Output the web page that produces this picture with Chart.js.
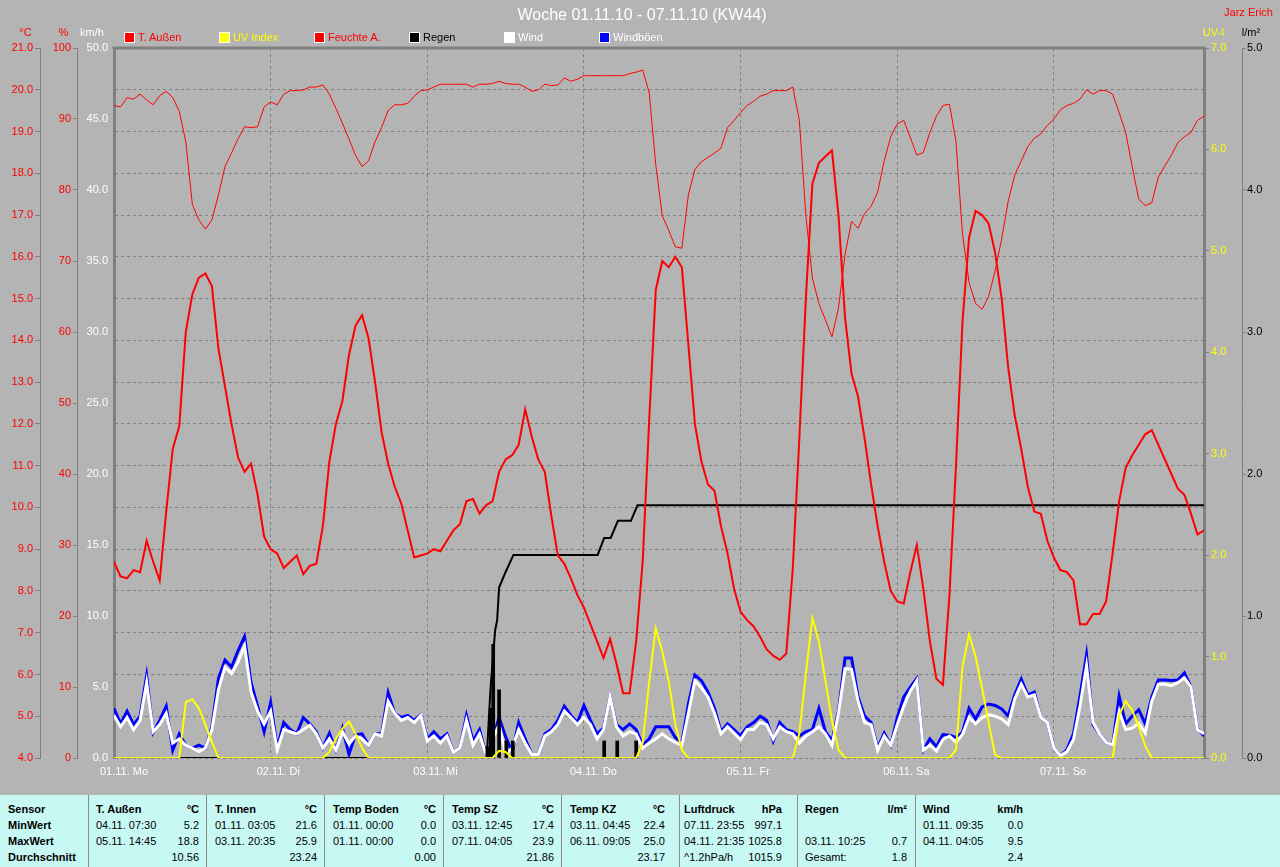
<!DOCTYPE html>
<html>
<head>
<meta charset="utf-8">
<script src="https://cdn.jsdelivr.net/npm/chart.js@4.4.0/dist/chart.umd.min.js"></script>
<style>
body { margin: 0; background: #b4b4b4; font-family: "Liberation Sans", Arial, sans-serif; }
#wrap { position: relative; width: 1280px; height: 867px; overflow: hidden; background: #b4b4b4; }
#c { position: absolute; left: 0; top: 0; }
.t { position: absolute; white-space: pre; }
.box { position: absolute; width: 9px; height: 9px; border: 1px solid #fff; }
#tbl { position: absolute; left: 0; top: 795px; width: 1280px; height: 72px; background: #c8f8f4; }
.col { position: absolute; top: 0; height: 72px; box-sizing: border-box; padding-top: 6px; }
.sep { border-left: 1px solid #8c8c8c; }
.row { display: flex; justify-content: space-between; height: 16px; line-height: 16px; font-size: 11px; color: #000; white-space: pre; }
.row.h { font-weight: bold; }
</style>
</head>
<body>
<div id="wrap">
<canvas id="c" width="1280" height="795"></canvas>
<div id="tbl"></div>
</div>
<script>
// x = hours since 01.11. 00:00
var dayLabels = ["01.11. Mo", "02.11. Di", "03.11. Mi", "04.11. Do", "05.11. Fr", "06.11. Sa", "07.11. So"];
var dayTicks = [0, 24, 48, 72, 96, 120, 144];

var hours = [];
for (var i = 0; i < 168; i++) hours.push(i);

// T. Aussen, degC (hourly)
var tempOut = [
  8.7, 8.35, 8.3, 8.5, 8.45, 9.2, 8.7, 8.25, 9.9, 11.4, 11.95, 14.2, 15.1, 15.5, 15.6, 15.3, 13.8, 12.9, 12.0, 11.2, 10.85, 11.05, 10.3, 9.3,
  9.0, 8.9, 8.55, 8.7, 8.85, 8.4, 8.6, 8.65, 9.55, 11.1, 12.0, 12.55, 13.65, 14.35, 14.6, 14.05, 13.0, 11.8, 11.05, 10.5, 10.1, 9.45, 8.8, 8.85,
  8.9, 9.0, 8.95, 9.2, 9.45, 9.6, 10.15, 10.2, 9.85, 10.05, 10.15, 10.85, 11.15, 11.25, 11.5, 12.35, 11.7, 11.15, 10.85, 9.8, 8.85, 8.65, 8.3, 7.9,
  7.6, 7.2, 6.8, 6.4, 6.85, 6.25, 5.55, 5.55, 6.8, 8.7, 12.1, 15.2, 15.9, 15.75, 16.0, 15.75, 13.9, 12.0, 11.1, 10.55, 10.4, 9.55, 8.9, 8.05,
  7.5, 7.3, 7.15, 6.9, 6.6, 6.45, 6.35, 6.5, 8.55, 11.65, 15.0, 17.75, 18.25, 18.4, 18.55, 17.0, 14.55, 13.2, 12.65, 11.65, 10.55, 9.55, 8.7, 8.0,
  7.75, 7.7, 8.45, 9.1, 8.05, 6.8, 5.9, 5.75, 7.9, 11.0, 14.45, 16.45, 17.1, 17.0, 16.8, 16.1, 15.0, 13.35, 12.2, 11.4, 10.5, 9.9, 9.85, 9.2,
  8.8, 8.5, 8.45, 8.25, 7.2, 7.2, 7.45, 7.45, 7.75, 8.9, 10.15, 10.95, 11.25, 11.5, 11.75, 11.85, 11.5, 11.15, 10.8, 10.45, 10.3, 9.85, 9.35, 9.45
];

// Feuchte A., % (hourly)
var humOut = [
  91.9, 91.7, 93.0, 92.8, 93.5, 92.7, 92.0, 93.3, 93.9, 93.0, 91.1, 86.8, 78.0, 75.8, 74.5, 75.8, 79.3, 83.3, 85.2, 87.2, 88.9, 88.8, 88.9, 91.7,
  92.4, 92.0, 93.5, 94.0, 94.0, 94.1, 94.5, 94.5, 94.8, 93.5, 91.5, 89.4, 87.2, 84.9, 83.3, 84.1, 86.8, 88.8, 91.2, 92.0, 92.0, 92.2, 93.2, 94.0,
  94.1, 94.5, 94.9, 94.9, 94.9, 94.9, 94.9, 94.5, 94.9, 94.9, 95.0, 95.3, 95.0, 94.9, 94.9, 94.5, 93.9, 94.1, 94.9, 94.7, 94.8, 95.8, 95.3, 95.6,
  96.1, 96.1, 96.1, 96.1, 96.1, 96.1, 96.1, 96.4, 96.6, 96.9, 93.7, 83.6, 76.4, 74.3, 72.0, 71.8, 79.3, 82.9, 84.0, 84.6, 85.2, 85.9, 88.8, 89.8,
  90.9, 91.9, 92.5, 93.2, 93.5, 94.0, 94.0, 94.0, 94.5, 89.8, 76.4, 67.6, 64.0, 61.7, 59.3, 63.4, 70.9, 75.6, 74.6, 76.7, 77.7, 79.7, 84.1, 87.5,
  89.3, 89.8, 87.4, 84.9, 85.3, 88.1, 90.4, 91.9, 92.1, 86.8, 73.8, 67.0, 64.0, 63.2, 65.0, 68.6, 73.1, 78.4, 82.1, 84.1, 86.1, 87.3, 87.9, 89.1,
  90.0, 91.3, 91.9, 92.2, 92.8, 94.1, 93.5, 94.0, 94.0, 93.5, 90.9, 88.1, 83.3, 78.7, 77.8, 78.2, 81.8, 83.4, 84.9, 86.7, 87.5, 88.1, 89.8, 90.4
];

// Wind, km/h (hourly)
var wind = [
  3.0, 2.2, 2.85, 2.0, 2.65, 5.3, 1.85, 2.35, 3.15, 1.05, 1.35, 0.9, 0.7, 0.45, 0.7, 2.0, 4.8, 6.4, 5.95, 6.75, 7.9, 4.65, 3.3, 2.4,
  3.3, 0.55, 2.0, 1.85, 1.7, 2.0, 2.3, 1.7, 0.7, 1.35, 0.55, 1.85, 1.0, 1.55, 1.35, 0.9, 1.7, 1.55, 4.0, 3.15, 2.65, 2.85, 2.5, 3.0,
  1.2, 1.55, 1.05, 1.55, 0.4, 0.7, 2.65, 0.9, 1.7, 0.25, 1.3, 2.35, 0.25, 0.7, 2.0, 1.05, 0.25, 0.25, 1.55, 1.85, 2.35, 3.3, 2.85, 2.35,
  2.85, 2.35, 1.35, 2.0, 4.3, 2.2, 1.55, 1.85, 1.7, 0.7, 1.05, 1.35, 1.7, 1.35, 1.1, 0.9, 3.15, 5.45, 4.95, 4.3, 3.15, 1.7, 2.2, 1.75,
  1.3, 2.0, 2.0, 2.5, 2.35, 1.35, 2.2, 1.85, 1.7, 1.05, 1.55, 1.85, 2.2, 1.7, 0.9, 3.15, 6.3, 6.25, 4.0, 2.5, 2.35, 0.55, 1.55, 0.9,
  2.35, 3.65, 4.7, 5.45, 0.55, 0.9, 0.5, 1.3, 1.55, 1.1, 1.65, 2.85, 2.4, 2.85, 3.05, 2.95, 2.75, 2.35, 4.15, 5.2, 4.3, 4.45, 2.85, 2.5,
  0.7, 0.15, 0.45, 1.3, 3.65, 6.5, 2.5, 1.7, 1.1, 0.9, 3.25, 2.0, 2.1, 2.45, 1.75, 4.0, 5.2, 5.2, 5.1, 5.3, 5.65, 5.0, 2.0, 1.7
];

// Windboeen, km/h (hourly)
var gust = [
  3.5, 2.4, 3.3, 2.35, 2.95, 5.8, 1.8, 2.65, 3.65, 0.55, 1.7, 0.9, 0.7, 0.9, 0.7, 2.2, 5.6, 6.9, 6.4, 7.55, 8.55, 5.3, 3.65, 1.85,
  3.9, 0.7, 2.5, 2.0, 1.7, 2.85, 2.4, 1.85, 0.7, 1.75, 0.55, 2.1, 0.25, 1.65, 1.7, 0.9, 1.7, 1.7, 4.6, 3.15, 2.85, 3.0, 2.65, 3.05,
  1.35, 1.85, 1.35, 1.7, 0.4, 0.7, 3.0, 1.2, 2.0, 0.25, 1.3, 2.85, 1.5, 0.4, 2.5, 1.35, 0.25, 0.25, 1.7, 2.0, 2.65, 3.65, 3.0, 2.5,
  3.7, 2.65, 1.7, 2.1, 4.3, 2.35, 2.0, 2.4, 2.0, 0.9, 1.35, 2.2, 2.2, 2.2, 1.45, 1.05, 3.8, 5.85, 5.45, 4.65, 3.5, 1.85, 2.4, 2.0,
  1.55, 2.2, 2.5, 2.95, 2.65, 1.2, 2.5, 2.0, 1.85, 1.55, 1.85, 2.0, 3.5, 1.85, 1.2, 3.3, 7.05, 7.05, 4.3, 2.95, 2.5, 0.7, 1.75, 0.9,
  2.85, 4.3, 5.0, 5.6, 0.55, 1.35, 0.8, 1.65, 1.6, 1.45, 1.8, 3.5, 2.75, 3.6, 3.8, 3.7, 3.45, 2.95, 4.45, 5.55, 4.45, 4.65, 2.85, 2.5,
  0.7, 0.15, 0.6, 1.7, 4.35, 7.25, 2.35, 1.7, 1.1, 0.9, 4.35, 2.4, 2.95, 3.4, 2.4, 4.3, 5.5, 5.5, 5.45, 5.5, 6.0, 5.0, 2.1, 1.55
];

// UV Index (hourly)
var uvIndex = [
  0, 0, 0, 0, 0, 0, 0, 0, 0, 0, 0, 0.55, 0.58, 0.49, 0.33, 0.16, 0, 0, 0, 0, 0, 0, 0, 0,
  0, 0, 0, 0, 0, 0, 0, 0, 0, 0.06, 0.19, 0.29, 0.36, 0.24, 0.1, 0, 0, 0, 0, 0, 0, 0, 0, 0,
  0, 0, 0, 0, 0, 0, 0, 0, 0, 0, 0, 0.07, 0.06, 0, 0, 0, 0, 0, 0, 0, 0, 0, 0, 0,
  0, 0, 0, 0, 0, 0, 0, 0, 0, 0.15, 0.75, 1.28, 1.05, 0.76, 0.33, 0.08, 0, 0, 0, 0, 0, 0, 0, 0,
  0, 0, 0, 0, 0, 0, 0, 0, 0, 0.24, 0.83, 1.38, 1.15, 0.76, 0.37, 0.08, 0, 0, 0, 0, 0, 0, 0, 0,
  0, 0, 0, 0, 0, 0, 0, 0, 0, 0.08, 0.9, 1.22, 1.0, 0.69, 0.35, 0.03, 0, 0, 0, 0, 0, 0, 0, 0,
  0, 0, 0, 0, 0, 0, 0, 0, 0, 0, 0.42, 0.56, 0.47, 0.31, 0.12, 0, 0, 0, 0, 0, 0, 0, 0, 0
];

// Regen, cumulative l/m2
var rainHours = [0, 57.1, 57.7, 58.4, 58.7, 59.0, 60.0, 61.2, 74.1, 75.1, 76.1, 77.2, 79.2, 80.2, 167];
var rainSum = [0, 0, 0.5, 0.9, 0.97, 1.2, 1.31, 1.43, 1.43, 1.55, 1.55, 1.67, 1.67, 1.78, 1.78];

// Regen per interval, l/m2
var rainBarHours = [57.2, 57.7, 58.1, 59.0, 60.1, 61.1, 75.1, 77.1, 80.0];
var rainBarValues = [0.08, 0.35, 0.8, 0.48, 0.12, 0.12, 0.12, 0.12, 0.12];

var legendNames = ["T. Außen", "UV Index", "Feuchte A.", "Regen", "Wind", "Windböen"];
var legendBoxColors = ["#ff0000", "#ffff00", "#ff0000", "#000000", "#ffffff", "#0000ff"];
var legendTextColors = ["#ff0000", "#ffff00", "#ff0000", "#000000", "#ffffff", "#ffffff"];

var gridGray = "#808080";

function pts(xs, ys) {
    return xs.map(function (x, i) { return { x: x, y: ys[i] }; });
};

function fixWidth(w) {
    return function (scale) { scale.width = w; };
};

function oneDecimal(v) {
    return Number(v).toFixed(1);
};

// top edge of the plot frame
var framePlugin = {
    id: "frame",
    beforeDatasetsDraw: function (chart) {
        var a = chart.chartArea;
        var c = chart.ctx;
        c.save();
        c.strokeStyle = gridGray;
        c.lineWidth = 3;
        c.beginPath();
        c.moveTo(a.left - 1.5, a.top);
        c.lineTo(a.right + 1.5, a.top);
        c.stroke();
        c.restore();
    }
};

Chart.defaults.font.family = '"Liberation Sans", Arial, sans-serif';
Chart.defaults.font.size = 11;

var ctx = document.getElementById("c").getContext("2d");

new Chart(ctx, {
    type: "line",
    data: {
        datasets: [
            { label: "T. Außen", data: pts(hours, tempOut), yAxisID: "yT", borderColor: "#ff0000", borderWidth: 2 },
            { label: "UV Index", data: pts(hours, uvIndex), yAxisID: "yUV", borderColor: "#ffff00", borderWidth: 2 },
            { label: "Feuchte A.", data: pts(hours, humOut), yAxisID: "yH", borderColor: "#ff0000", borderWidth: 1 },
            { label: "Regen", data: pts(rainHours, rainSum), yAxisID: "yR", borderColor: "#000000", borderWidth: 2 },
            { label: "Regen Menge", type: "bar", data: pts(rainBarHours, rainBarValues), yAxisID: "yR", backgroundColor: "#000000", barThickness: 3, borderWidth: 0 },
            { label: "Wind", data: pts(hours, wind), yAxisID: "yW", borderColor: "#ffffff", borderWidth: 3 },
            { label: "Windböen", data: pts(hours, gust), yAxisID: "yW", borderColor: "#0000ff", borderWidth: 3 }
        ]
    },
    options: {
        responsive: false,
        animation: false,
        layout: { padding: { top: 48 } },
        plugins: { legend: { display: false }, tooltip: { enabled: false }, title: { display: false } },
        elements: { point: { radius: 0 }, line: { tension: 0, fill: false } },
        scales: {
            x: {
                type: "linear", min: 0, max: 167, offset: false,
                afterBuildTicks: function (s) { s.ticks = dayTicks.map(function (v) { return { value: v }; }); },
                afterFit: function (s) { s.height = 37; },
                ticks: {
                    color: "#ffffff", autoSkip: false, maxRotation: 0, align: "start", labelOffset: -14, padding: 7,
                    callback: function (v) { return dayLabels[Math.round(v / 24)]; }
                },
                grid: { color: gridGray, drawTicks: false, offset: false, borderDash: [3, 3] },
                border: { display: false, dash: [3, 3] }
            },
            yT: {
                position: "left", weight: 3, min: 4, max: 21,
                afterFit: fixWidth(40),
                ticks: { stepSize: 1, color: "#ff0000", padding: 2, callback: oneDecimal },
                grid: { color: gridGray, tickLength: 5, borderDash: [3, 3], tickBorderDash: [] },
                border: { color: gridGray, dash: [3, 3] }
            },
            yH: {
                position: "left", weight: 2, min: 0, max: 100,
                afterFit: fixWidth(37),
                ticks: { stepSize: 10, color: "#ff0000", padding: 2 },
                grid: { color: gridGray, tickLength: 4, drawOnChartArea: false },
                border: { color: gridGray }
            },
            yW: {
                position: "left", weight: 1, min: 0, max: 50,
                afterFit: fixWidth(37),
                ticks: { stepSize: 5, color: "#ffffff", padding: 6, callback: oneDecimal },
                grid: { display: false, drawTicks: false },
                border: { color: gridGray, width: 3 }
            },
            yUV: {
                position: "right", weight: 0, min: 0, max: 7,
                afterFit: fixWidth(38),
                ticks: { stepSize: 1, color: "#ffff00", padding: 2, callback: oneDecimal },
                grid: { color: gridGray, tickLength: 5, drawOnChartArea: false },
                border: { color: gridGray, width: 3 }
            },
            yR: {
                position: "right", weight: 1, min: 0, max: 5,
                afterFit: fixWidth(38),
                ticks: { stepSize: 1, color: "#000000", padding: 1, callback: oneDecimal },
                grid: { color: gridGray, tickLength: 4, drawOnChartArea: false },
                border: { color: gridGray }
            }
        }
    },
    plugins: [framePlugin]
});

// texts around the chart
var wrap = document.getElementById("wrap");

function addText(str, x, y, color, size, align, bold) {
    var d = document.createElement("div");
    d.className = "t";
    d.textContent = str;
    d.style.left = x + "px";
    d.style.top = (y - size * 0.487) + "px";
    d.style.color = color;
    d.style.fontSize = size + "px";
    d.style.lineHeight = size + "px";
    if (bold) d.style.fontWeight = "bold";
    if (align === "center") d.style.transform = "translateX(-50%)";
    if (align === "right") d.style.transform = "translateX(-100%)";
    wrap.appendChild(d);
    return d;
};

addText("Woche 01.11.10 - 07.11.10 (KW44)", 642, 14.7, "#ffffff", 16, "center");
addText("Jarz Erich", 1273, 12, "#ff0000", 11, "right");
addText("°C", 25.5, 32.5, "#ff0000", 11, "center");
addText("%", 63.5, 32.5, "#ff0000", 11, "center");
addText("km/h", 92, 32.5, "#ffffff", 11, "center");
addText("UV-I", 1213.5, 32.5, "#ffff00", 11, "center");
addText("l/m²", 1251, 32.5, "#000000", 11, "center");

legendNames.forEach(function (name, i) {
    var left = 124 + 95 * i;
    var b = document.createElement("div");
    b.className = "box";
    b.style.left = left + "px";
    b.style.top = "32px";
    b.style.background = legendBoxColors[i];
    wrap.appendChild(b);
    addText(name, left + 14, 37, legendTextColors[i], 11, "left");
});

// summary table
var sensorRows = ["Sensor", "MinWert", "MaxWert", "Durchschnitt"];
var tableCols = [
    ["T. Außen", "°C", [["04.11. 07:30", "5.2"], ["05.11. 14:45", "18.8"], ["", "10.56"]]],
    ["T. Innen", "°C", [["01.11. 03:05", "21.6"], ["03.11. 20:35", "25.9"], ["", "23.24"]]],
    ["Temp Boden", "°C", [["01.11. 00:00", "0.0"], ["01.11. 00:00", "0.0"], ["", "0.00"]]],
    ["Temp SZ", "°C", [["03.11. 12:45", "17.4"], ["07.11. 04:05", "23.9"], ["", "21.86"]]],
    ["Temp KZ", "°C", [["03.11. 04:45", "22.4"], ["06.11. 09:05", "25.0"], ["", "23.17"]]],
    ["Luftdruck", "hPa", [["07.11. 23:55", "997.1"], ["04.11. 21:35", "1025.8"], ["^1.2hPa/h", "1015.9"]]],
    ["Regen", "l/m²", [["", ""], ["03.11. 10:25", "0.7"], ["Gesamt:", "1.8"]]],
    ["Wind", "km/h", [["01.11. 09:35", "0.0"], ["04.11. 04:05", "9.5"], ["", "2.4"]]]
];
var colEdges = [88, 206, 324, 443, 561, 679, 797, 915, 1035];
var colPadL = [7, 8, 8, 8, 8, 4, 7, 7];
var colPadR = [7, 7, 7, 7, 14, 15, 8, 12];

var tbl = document.getElementById("tbl");

function makeRow(left, right, head) {
    var r = document.createElement("div");
    r.className = head ? "row h" : "row";
    var a = document.createElement("span");
    a.textContent = left;
    var b = document.createElement("span");
    b.textContent = right;
    r.appendChild(a);
    r.appendChild(b);
    return r;
};

var first = document.createElement("div");
first.className = "col";
first.style.left = "0px";
first.style.width = "88px";
first.style.paddingLeft = "8px";
sensorRows.forEach(function (s) { first.appendChild(makeRow(s, "", true)); });
tbl.appendChild(first);

tableCols.forEach(function (col, i) {
    var d = document.createElement("div");
    d.className = "col sep";
    d.style.left = colEdges[i] + "px";
    d.style.width = (colEdges[i + 1] - colEdges[i]) + "px";
    d.style.paddingLeft = colPadL[i] + "px";
    d.style.paddingRight = colPadR[i] + "px";
    d.appendChild(makeRow(col[0], col[1], true));
    col[2].forEach(function (r) { d.appendChild(makeRow(r[0], r[1], false)); });
    tbl.appendChild(d);
});
</script>
</body>
</html>
